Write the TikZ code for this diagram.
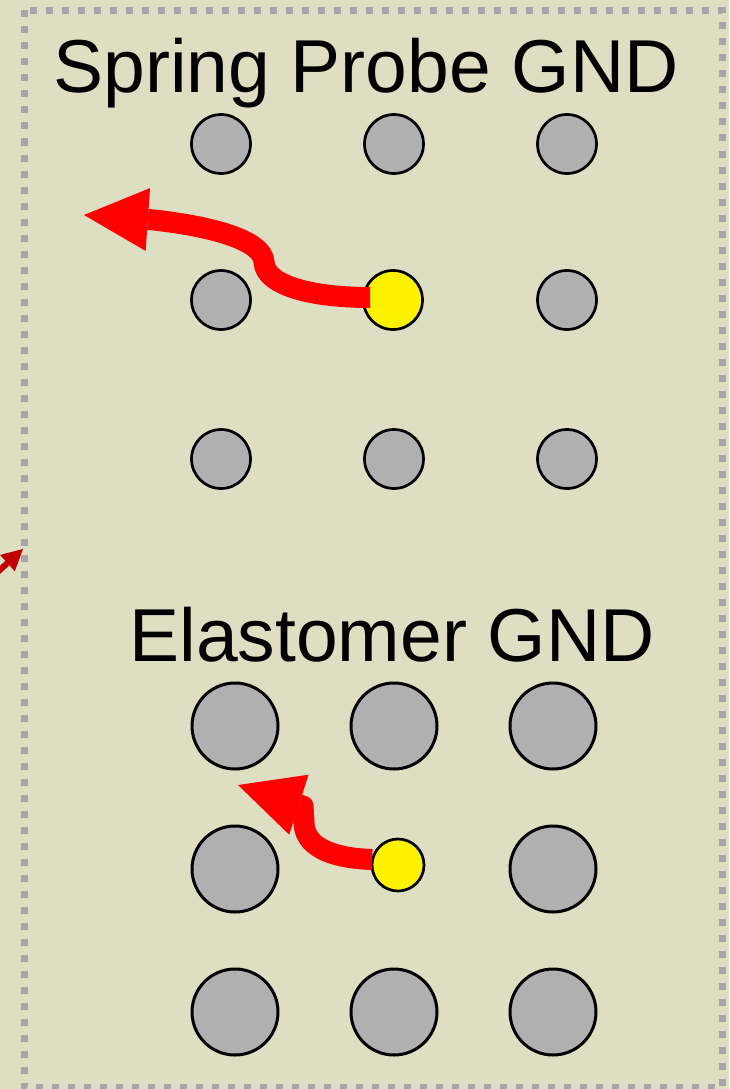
\documentclass[tikz,border=0pt]{standalone}
\usepackage{fontspec}
\setmainfont{Liberation Sans}
\usepackage{tikz}
\usetikzlibrary{arrows.meta}
\definecolor{panel}{RGB}{222,222,194}
\definecolor{frame}{RGB}{166,166,166}
\definecolor{pin}{RGB}{176,176,176}
\definecolor{darkred}{RGB}{192,0,0}

\begin{document}
\begin{tikzpicture}[x=1pt, y=-1pt,
    pad/.style={circle, draw=black, fill=pin, line width=2.7pt,
      inner sep=0pt, minimum size=59pt},
    bigpad/.style={pad, line width=3pt, minimum size=86pt},
    heading/.style={inner sep=0pt, font=\fontsize{75}{90}\selectfont},
    flow/.style={draw=red, line width=21pt, line join=round,
      -{Triangle[length=64pt, width=63pt, line width=0pt]}}]

    \useasboundingbox (0, 0) rectangle (729, 1089);
    \fill [panel] (0, 0) rectangle (729, 1089);
    \draw [frame, line width=7pt, dash pattern=on 7pt off 9pt]
    (24, 10.5) rectangle (722, 1087);

    \node [heading, anchor=base] (probe-title) at (366, 93) {Spring Probe GND};
    \node [heading, anchor=base] (elast-title) at (392, 661) {Elastomer GND};

    \foreach \y [count=\r] in {144, 300, 459}
      \foreach \x [count=\c] in {221, 394, 567}
        {\ifnum\r\c=22 \else \node [pad] (probe-\r-\c) at (\x, \y) {}; \fi}

    \foreach \y [count=\r] in {726, 869, 1012}
      \foreach \x [count=\c] in {235, 394, 553}
        {\ifnum\r\c=22 \else \node [bigpad] (elast-\r-\c) at (\x, \y) {}; \fi}

    \node [pad, fill=yellow] (probe-sig) at (393, 300) {};
    \node [pad, fill=yellow, minimum size=52pt] (elast-sig) at (398, 865) {};

    \coordinate (probe-tip) at (84, 215);
    \coordinate (elast-tip) at (238, 785);
    \coordinate (off-page) at (-51, 616);
    \coordinate (edge-tip) at (23, 549);

    \draw [flow] ([xshift=8pt, yshift=2.5pt]probe-sig.west)
    .. controls (310, 297.5) and (265, 285) .. (264, 262)
    .. controls (263, 240) and (210, 226) .. (152, 219.8) -- (probe-tip);

    \draw [flow] ([xshift=1.5pt, yshift=5.5pt]elast-sig.west)
    .. controls (328, 858) and (304, 845) .. (304, 822)
    -- (303, 806) -- (elast-tip);

    \draw [darkred, line width=6pt,
      -{Triangle[length=21pt, width=22pt, line width=0pt]}] (off-page) -- (edge-tip);

  \end{tikzpicture}
\end{document}
